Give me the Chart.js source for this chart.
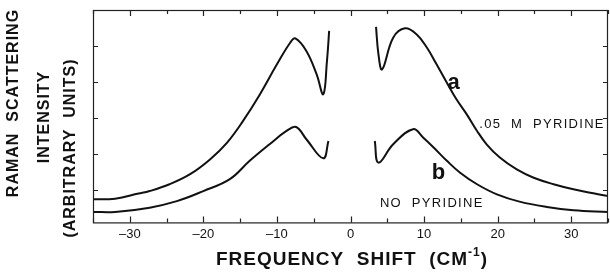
<!DOCTYPE html>
<html>
<head>
<meta charset="utf-8">
<script src="https://cdn.jsdelivr.net/npm/chart.js@4.4.0/dist/chart.umd.min.js"></script>
<style>
    html, body { margin: 0; padding: 0; background: #fff; }
    #chart-container { width: 610px; height: 276px; }
</style>
</head>
<body>
<div id="chart-container"><canvas id="graphCanvas" width="610" height="276"></canvas></div>
<script>
// frequency shift (cm-1) and intensity
var shiftALeft = [-35, -32, -28.8, -27.3, -24.6, -21.8, -19.1, -16.8, -14.6, -12.3, -10.0, -8.2, -7.5, -6.0, -4.6, -3.7, -3.2, -2.9];
var intensityALeft = [0.74, 0.76, 0.90, 0.97, 1.16, 1.44, 1.85, 2.31, 2.92, 3.66, 4.49, 5.09, 5.21, 4.86, 4.21, 3.66, 4.58, 5.42];

var shiftARight = [3.47, 3.8, 4.3, 5.8, 7.4, 9.0, 10.4, 11.7, 13.1, 14.4, 15.8, 17.2, 18.5, 20.3, 22.6, 24.9, 27.6, 30.3, 33.0, 35];
var intensityARight = [5.53, 4.77, 4.35, 5.23, 5.49, 5.32, 4.95, 4.49, 3.98, 3.52, 3.10, 2.64, 2.27, 1.90, 1.57, 1.34, 1.16, 1.02, 0.91, 0.83];

var shiftBLeft = [-35, -32, -27.3, -23.6, -20.0, -16.4, -13.7, -11.0, -8.7, -7.4, -6.0, -3.7, -3.0];
var intensityBLeft = [0.39, 0.39, 0.51, 0.69, 0.97, 1.30, 1.81, 2.27, 2.64, 2.75, 2.41, 1.88, 2.36];

var shiftBRight = [3.3, 3.8, 5.8, 8.5, 9.9, 11.3, 13.1, 14.9, 17.2, 19.9, 23.1, 26.7, 30.3, 35];
var intensityBRight = [2.36, 1.76, 2.27, 2.69, 2.45, 2.18, 1.81, 1.48, 1.16, 0.88, 0.67, 0.53, 0.44, 0.39];

var xTicks = [-30, -20, -10, 0, 10, 20, 30];
var yTicks = [1, 2, 3, 4, 5];

function toPoints(xs, ys) {
    var pts = [];
    for (var i = 0; i < xs.length; i++) {
        pts.push({ x: xs[i], y: ys[i] });
    }
    return pts;
}

function curve(xs, ys) {
    return {
        data: toPoints(xs, ys),
        borderColor: '#111',
        borderWidth: 2,
        pointRadius: 0,
        fill: false,
        tension: 0.4
    };
}

// frame, inward ticks and all the lettering
var decorations = {
    id: 'decorations',
    afterDraw: function (chart) {
        var ctx = chart.ctx;
        var a = chart.chartArea;
        var x = chart.scales.x;
        var y = chart.scales.y;
        ctx.save();
        ctx.strokeStyle = '#222';
        ctx.lineWidth = 1.2;
        ctx.strokeRect(a.left + 0.5, a.top + 0.5, a.right - a.left - 1, a.bottom - a.top);

        ctx.beginPath();
        for (var v = -35; v <= 35; v += 5) {
            var px = Math.round(x.getPixelForValue(v)) + 0.5;
            var len = (v % 10 === 0) ? 6 : 4;
            ctx.moveTo(px, a.bottom); ctx.lineTo(px, a.bottom - len);
            ctx.moveTo(px, a.top); ctx.lineTo(px, a.top + len);
        }
        for (var i = 0; i < yTicks.length; i++) {
            var py = Math.round(y.getPixelForValue(yTicks[i])) + 0.5;
            ctx.moveTo(a.left, py); ctx.lineTo(a.left + 5, py);
            ctx.moveTo(a.right, py); ctx.lineTo(a.right - 5, py);
        }
        ctx.stroke();

        ctx.fillStyle = '#111';
        ctx.textBaseline = 'middle';

        // curve labels
        ctx.textAlign = 'center';
        ctx.font = 'bold 22px "Liberation Sans", Arial, sans-serif';
        ctx.fillText('a', x.getPixelForValue(14.0), y.getPixelForValue(3.98));
        ctx.fillText('b', x.getPixelForValue(11.95), y.getPixelForValue(1.48));

        ctx.textAlign = 'left';
        ctx.font = '13px "Liberation Sans", Arial, sans-serif';
        ctx.letterSpacing = '1.3px';
        ctx.fillText('.05  M  PYRIDINE', x.getPixelForValue(17.5), y.getPixelForValue(2.82));
        ctx.fillText('NO  PYRIDINE', x.getPixelForValue(4.0), y.getPixelForValue(0.62));

        // x axis title with superscript
        ctx.font = 'bold 19px "Liberation Sans", Arial, sans-serif';
        ctx.letterSpacing = '1px';
        var main = 'FREQUENCY  SHIFT  (CM';
        var w1 = ctx.measureText(main).width;
        ctx.font = 'bold 12px "Liberation Sans", Arial, sans-serif';
        var w2 = ctx.measureText('-1').width;
        ctx.font = 'bold 19px "Liberation Sans", Arial, sans-serif';
        var w3 = ctx.measureText(')').width;
        var sx = 352 - (w1 + w2 + w3) / 2;
        var ty = 260;
        ctx.fillText(main, sx, ty);
        ctx.font = 'bold 12px "Liberation Sans", Arial, sans-serif';
        ctx.fillText('-1', sx + w1, ty - 7);
        ctx.font = 'bold 19px "Liberation Sans", Arial, sans-serif';
        ctx.fillText(')', sx + w1 + w2, ty);

        // y axis title, three rotated lines
        ctx.font = 'bold 16px "Liberation Sans", Arial, sans-serif';
        ctx.letterSpacing = '1px';
        ctx.textAlign = 'center';
        var lines = [['RAMAN  SCATTERING', 14, 103], ['INTENSITY', 45, 117], ['(ARBITRARY  UNITS)', 71, 148]];
        for (var j = 0; j < lines.length; j++) {
            ctx.save();
            ctx.translate(lines[j][1], lines[j][2]);
            ctx.rotate(-Math.PI / 2);
            ctx.fillText(lines[j][0], 0, 0);
            ctx.restore();
        }
        ctx.restore();
    }
};

var graphTarget = document.getElementById('graphCanvas');

var chart = new Chart(graphTarget, {
    type: 'line',
    data: {
        datasets: [
            curve(shiftALeft, intensityALeft),
            curve(shiftARight, intensityARight),
            curve(shiftBLeft, intensityBLeft),
            curve(shiftBRight, intensityBRight)
        ]
    },
    options: {
        responsive: false,
        animation: false,
        layout: { padding: { left: 93, right: 2, top: 10, bottom: 30 } },
        plugins: { legend: { display: false }, tooltip: { enabled: false } },
        scales: {
            x: {
                type: 'linear',
                min: -35,
                max: 35,
                grid: { display: false, drawTicks: false },
                border: { display: false },
                afterBuildTicks: function (scale) {
                    scale.ticks = xTicks.map(function (v) { return { value: v }; });
                },
                ticks: {
                    autoSkip: false,
                    maxRotation: 0,
                    padding: 4,
                    color: '#111',
                    font: { family: '"Liberation Sans", Arial, sans-serif', size: 13 },
                    callback: function (v) { return String(v).replace('-', '\u2013'); }
                }
            },
            y: {
                display: false,
                min: 0.1,
                max: 6
            }
        }
    },
    plugins: [decorations]
});
</script>
</body>
</html>
